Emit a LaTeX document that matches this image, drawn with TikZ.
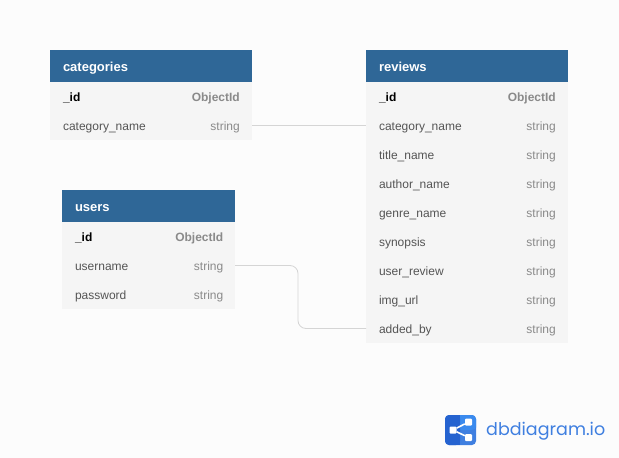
\documentclass[tikz,border=0pt]{standalone}
\usepackage{fontspec}
\setmainfont{Liberation Sans}
\newfontfamily\logofont{Poppins}
\usetikzlibrary{positioning}
\definecolor{headblue}{HTML}{2F6797}
\definecolor{rowgray}{HTML}{F5F5F5}
\definecolor{pagegray}{HTML}{FCFCFC}
\definecolor{linegray}{HTML}{D5D5D5}
\definecolor{namegray}{HTML}{555555}
\definecolor{typegray}{HTML}{8A8A8A}
\definecolor{logoblue}{HTML}{3F7FE0}
\definecolor{logodark}{HTML}{2563D0}
\definecolor{logolight}{HTML}{3A8AEE}
\tikzset{
  headbox/.style={fill=headblue, text=white, font=\fontsize{13}{15}\selectfont\bfseries, inner xsep=13pt, inner ysep=0pt, outer sep=0pt, minimum height=32pt, text width=#1, text height=11.5pt, text depth=1pt},
  rowbox/.style={fill=rowgray, text=namegray, font=\fontsize{12}{14}\selectfont, inner xsep=13pt, inner ysep=0pt, outer sep=0pt, minimum height=29pt, text width=#1, text height=11pt, text depth=1pt},
  keyname/.style={text=black, font=\fontsize{12}{14}\selectfont\bfseries},
  typename/.style={anchor=east, text=typegray, font=\fontsize{12}{14}\selectfont, inner sep=0pt, text height=11pt, text depth=1pt},
  keytype/.style={typename, font=\fontsize{12}{14}\selectfont\bfseries},
  relline/.style={draw=linegray, line width=0.8pt, rounded corners=8pt},
  icondot/.style={rectangle, rounded corners=1pt, fill=white, inner sep=0pt, minimum size=#1}
}
\begin{document}
\begin{tikzpicture}[x=1pt, y=-1pt]
  \useasboundingbox (0,0) rectangle (619,458);
  \fill[pagegray] (0,0) rectangle (619,458);

  % categories
  \node[headbox=176pt, anchor=north west] at (50,50) (cat) {categories};
  \node[rowbox=176pt, keyname, below=0pt of cat] (cat1) {\_id};
  \node[rowbox=176pt, below=0pt of cat1] (cat2) {category\_name};
  \node[keytype] at ([xshift=-12pt]cat1.east) (cat1t) {ObjectId};
  \node[typename] at ([xshift=-12pt]cat2.east) (cat2t) {string};

  % users
  \node[headbox=147pt, anchor=north west] at (62,190) (usr) {users};
  \node[rowbox=147pt, keyname, below=0pt of usr] (usr1) {\_id};
  \node[rowbox=147pt, below=0pt of usr1] (usr2) {username};
  \node[rowbox=147pt, below=0pt of usr2] (usr3) {password};
  \node[keytype] at ([xshift=-11.5pt]usr1.east) (usr1t) {ObjectId};
  \node[typename] at ([xshift=-11.5pt]usr2.east) (usr2t) {string};
  \node[typename] at ([xshift=-11.5pt]usr3.east) (usr3t) {string};

  % reviews
  \node[headbox=176pt, anchor=north west] at (366,50) (rev) {reviews};
  \node[rowbox=176pt, keyname, below=0pt of rev] (rev1) {\_id};
  \node[rowbox=176pt, below=0pt of rev1] (rev2) {category\_name};
  \node[rowbox=176pt, below=0pt of rev2] (rev3) {title\_name};
  \node[rowbox=176pt, below=0pt of rev3] (rev4) {author\_name};
  \node[rowbox=176pt, below=0pt of rev4] (rev5) {genre\_name};
  \node[rowbox=176pt, below=0pt of rev5] (rev6) {synopsis};
  \node[rowbox=176pt, below=0pt of rev6] (rev7) {user\_review};
  \node[rowbox=176pt, below=0pt of rev7] (rev8) {img\_url};
  \node[rowbox=176pt, below=0pt of rev8] (rev9) {added\_by};
  \node[keytype] at ([xshift=-12pt]rev1.east) (rev1t) {ObjectId};
  \node[typename] at ([xshift=-12pt]rev2.east) (rev2t) {string};
  \node[typename] at ([xshift=-12pt]rev3.east) (rev3t) {string};
  \node[typename] at ([xshift=-12pt]rev4.east) (rev4t) {string};
  \node[typename] at ([xshift=-12pt]rev5.east) (rev5t) {string};
  \node[typename] at ([xshift=-12pt]rev6.east) (rev6t) {string};
  \node[typename] at ([xshift=-12pt]rev7.east) (rev7t) {string};
  \node[typename] at ([xshift=-12pt]rev8.east) (rev8t) {string};
  \node[typename] at ([xshift=-12pt]rev9.east) (rev9t) {string};

  % relations
  \draw[relline] (cat2.east) -- (rev2.west);
  \coordinate (bend1) at (298,0);
  \draw[relline] (usr2.east) -| (bend1 |- rev9.west) -- (rev9.west);

  % logo
  \fill[logoblue, rounded corners=4pt] (445,415) rectangle (476,445);
  \fill[logolight, rounded corners=4pt] (458,415) rectangle (476,430) -- cycle;
  \fill[logolight] (458,415) rectangle (470,430);
  \fill[logodark, rounded corners=4pt] (445,415) rectangle (460,445);
  \fill[logodark] (456,415) rectangle (460,445);
  \node[icondot=7pt] at (453,430) (ic1) {};
  \node[icondot=7pt] at (468.5,422) (ic2) {};
  \node[icondot=7pt] at (468.5,437.5) (ic3) {};
  \draw[white, line width=1.6pt] (ic2) -- (ic1) -- (ic3);
  \node[anchor=west, inner sep=0pt, text=logoblue, font=\logofont\fontsize{17.5}{21}\selectfont] at (486,431) (logotext) {dbdiagram.io};
\end{tikzpicture}
\end{document}
